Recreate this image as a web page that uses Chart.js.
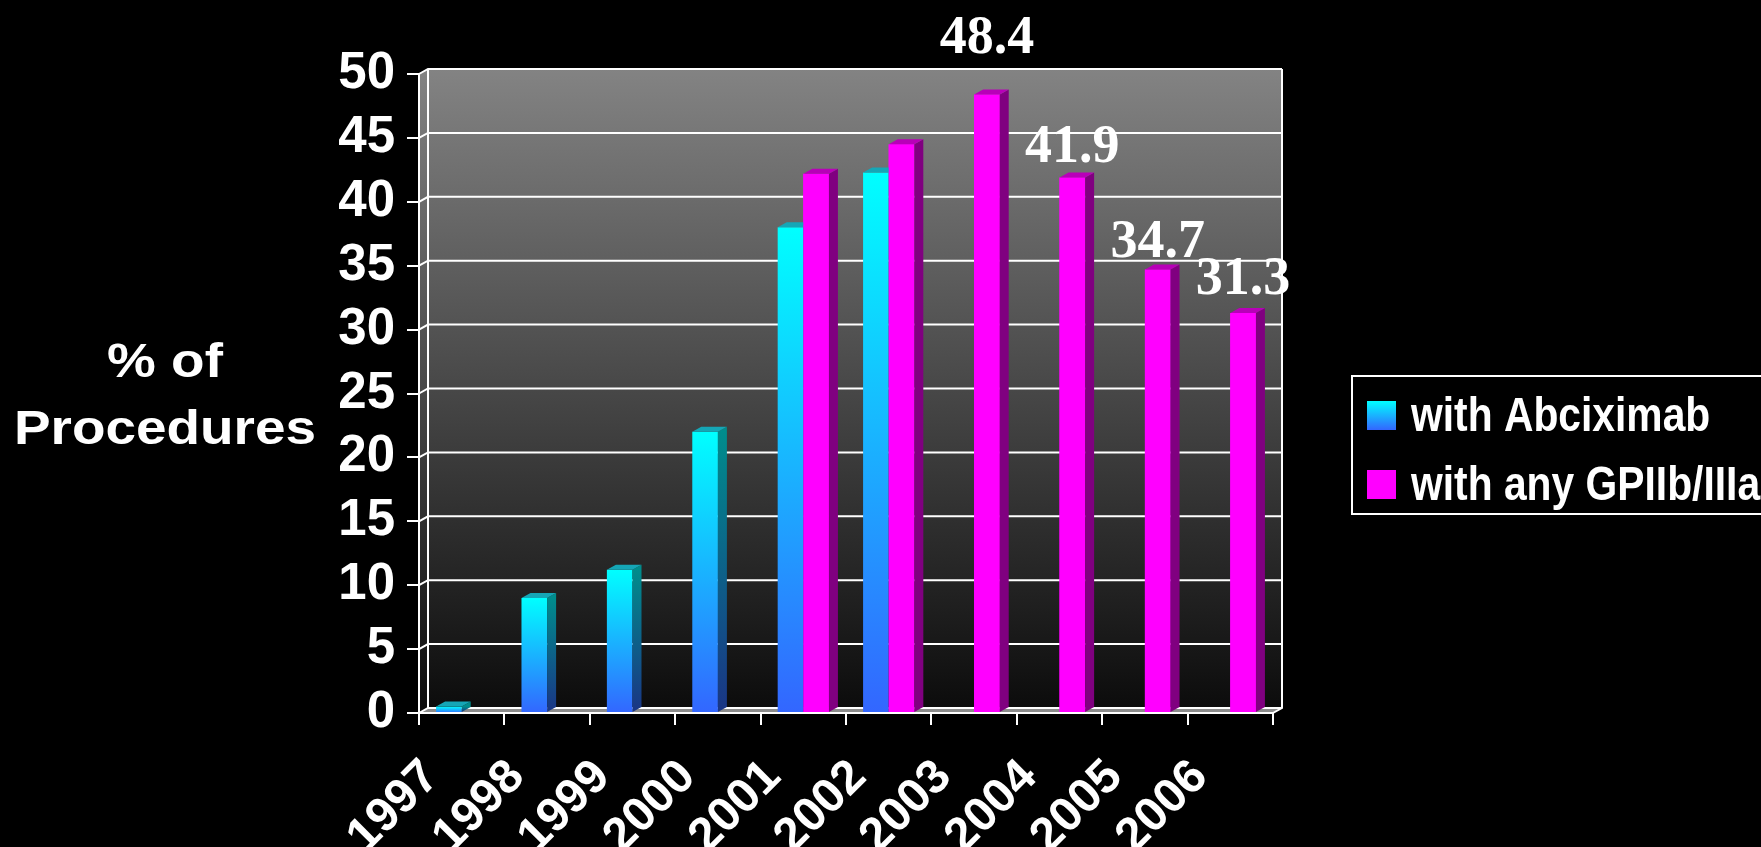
<!DOCTYPE html>
<html>
<head>
<meta charset="utf-8">
<script src="https://cdn.jsdelivr.net/npm/chart.js@4.4.0/dist/chart.umd.min.js"></script>
<style>
html, body { margin: 0; padding: 0; background: #000; overflow: hidden; }
</style>
</head>
<body>
<canvas id="chart" width="1761" height="847"></canvas>
<script>
// data
var years = ['1997', '1998', '1999', '2000', '2001', '2002', '2003', '2004', '2005', '2006'];
var abciximab = [0.5, 9, 11.2, 22, 38, 42.3, null, null, null, null];
var anyGp = [null, null, null, null, 42.2, 44.5, 48.4, 41.9, 34.7, 31.3];
var seriesNames = ['with Abciximab', 'with any GPIIb/IIIa'];
var labelledYears = ['2003', '2004', '2005', '2006'];
var yMin = 0, yMax = 50, yStep = 5;
var axisTitle = ['% of', 'Procedures'];

// fake 3d depth
var DX = 9, DY = -5;
var labelLift = [41, 16, 13, 19];

Chart.defaults.font.family = 'Liberation Sans';

function cyanFront(c) {
  var chart = c.chart;
  if (!chart.chartArea || c.raw == null) return '#00ffff';
  var ys = chart.scales.y;
  var top = ys.getPixelForValue(c.raw), base = ys.getPixelForValue(0);
  var g = chart.ctx.createLinearGradient(0, top, 0, base);
  g.addColorStop(0, '#00ffff');
  g.addColorStop(1, '#3366ff');
  return g;
}

var faceStyles = [
  { side: ['#008c8c', '#1a3585'], top: '#15a6b6' },
  { side: ['#800080', '#800080'], top: '#b800b8' }
];

function drawFaces(ctx, el, st) {
  var p = el.getProps(['x', 'y', 'base', 'width'], true);
  var l = p.x - p.width / 2, r = p.x + p.width / 2;
  var g = ctx.createLinearGradient(0, p.y, 0, p.base);
  g.addColorStop(0, st.side[0]);
  g.addColorStop(1, st.side[1]);
  ctx.fillStyle = g;
  ctx.beginPath();
  ctx.moveTo(r, p.y); ctx.lineTo(r + DX, p.y + DY);
  ctx.lineTo(r + DX, p.base + DY); ctx.lineTo(r, p.base);
  ctx.closePath(); ctx.fill();
  ctx.fillStyle = st.top;
  ctx.beginPath();
  ctx.moveTo(l, p.y); ctx.lineTo(l + DX, p.y + DY);
  ctx.lineTo(r + DX, p.y + DY); ctx.lineTo(r, p.y);
  ctx.closePath(); ctx.fill();
}

var wallPlugin = {
  id: 'walls',
  beforeDraw: function (chart) {
    var ctx = chart.ctx, a = chart.chartArea, ys = chart.scales.y;
    ctx.save();
    ctx.fillStyle = '#000';
    ctx.fillRect(0, 0, chart.width, chart.height);
    var g = ctx.createLinearGradient(0, a.top + DY, 0, a.bottom + DY);
    g.addColorStop(0, '#838383');
    g.addColorStop(1, '#0c0c0c');
    ctx.fillStyle = g;
    ctx.beginPath();
    ctx.moveTo(a.left, a.top); ctx.lineTo(a.left + DX, a.top + DY);
    ctx.lineTo(a.left + DX, a.bottom + DY); ctx.lineTo(a.left, a.bottom);
    ctx.closePath(); ctx.fill();
    ctx.fillRect(a.left + DX, a.top + DY, a.right - a.left, a.bottom - a.top);
    ctx.fillStyle = '#8c8c8c';
    ctx.beginPath();
    ctx.moveTo(a.left, a.bottom); ctx.lineTo(a.left + DX, a.bottom + DY);
    ctx.lineTo(a.right + DX, a.bottom + DY); ctx.lineTo(a.right, a.bottom);
    ctx.closePath(); ctx.fill();
    ctx.strokeStyle = '#fff';
    ctx.lineWidth = 2;
    ys.ticks.forEach(function (t) {
      var py = ys.getPixelForValue(t.value);
      ctx.beginPath();
      ctx.moveTo(a.left, py); ctx.lineTo(a.left + DX, py + DY);
      ctx.lineTo(a.right + DX, py + DY);
      ctx.stroke();
    });
    ctx.beginPath();
    ctx.moveTo(a.left + DX, a.top + DY); ctx.lineTo(a.left + DX, a.bottom + DY);
    ctx.moveTo(a.right + DX, a.top + DY); ctx.lineTo(a.right + DX, a.bottom + DY);
    ctx.lineTo(a.right, a.bottom);
    ctx.stroke();
    ctx.restore();
  },
  afterDatasetsDraw: function (chart) {
    var ctx = chart.ctx;
    ctx.save();
    chart.data.datasets.forEach(function (ds, d) {
      var meta = chart.getDatasetMeta(d);
      meta.data.forEach(function (el, i) {
        if (ds.data[i] == null) return;
        if (d > 0) el.draw(ctx);
        drawFaces(ctx, el, faceStyles[d]);
      });
    });
    // value labels
    var meta = chart.getDatasetMeta(1);
    ctx.fillStyle = '#fff';
    ctx.font = 'bold 54px "Liberation Serif"';
    ctx.textAlign = 'center';
    ctx.textBaseline = 'alphabetic';
    labelledYears.forEach(function (yr, k) {
      var i = years.indexOf(yr);
      var el = meta.data[i];
      ctx.fillText(anyGp[i].toFixed(1), el.x, el.y - labelLift[k]);
    });
    ctx.restore();
  },
  afterDraw: function (chart) {
    var ctx = chart.ctx;
    ctx.save();
    // axis title, horizontal
    ctx.fillStyle = '#fff';
    ctx.font = 'bold 49px "Liberation Sans"';
    ctx.textAlign = 'center';
    ctx.textBaseline = 'alphabetic';
    axisTitle.forEach(function (line, k) {
      ctx.save();
      ctx.translate(165, 377 + k * 67);
      ctx.scale(1.12, 1);
      ctx.fillText(line, 0, 0);
      ctx.restore();
    });
    // legend
    ctx.strokeStyle = '#fff';
    ctx.lineWidth = 2;
    ctx.strokeRect(1352, 376, 460, 138);
    chart.data.datasets.forEach(function (ds, d) {
      var sy = 401 + d * 69;
      if (d === 0) {
        var g = ctx.createLinearGradient(0, sy, 0, sy + 29);
        g.addColorStop(0, '#00ffff');
        g.addColorStop(1, '#3366ff');
        ctx.fillStyle = g;
      } else {
        ctx.fillStyle = '#ff00ff';
      }
      ctx.fillRect(1367, sy, 29, 29);
      ctx.save();
      ctx.fillStyle = '#fff';
      ctx.font = 'bold 48px "Liberation Sans"';
      ctx.textAlign = 'left';
      ctx.translate(1411, sy + 30);
      ctx.scale(0.85, 1);
      ctx.fillText(ds.label, 0, 0);
      ctx.restore();
    });
    ctx.restore();
  }
};

new Chart(document.getElementById('chart'), {
  type: 'bar',
  data: {
    labels: years,
    datasets: [
      { label: seriesNames[0], data: abciximab, backgroundColor: cyanFront, borderWidth: 0 },
      { label: seriesNames[1], data: anyGp, backgroundColor: '#ff00ff', borderWidth: 0 }
    ]
  },
  options: {
    responsive: false,
    animation: false,
    layout: { padding: { left: 0, right: 488, top: 74, bottom: 0 } },
    datasets: { bar: { categoryPercentage: 0.6, barPercentage: 1 } },
    plugins: { legend: { display: false }, tooltip: { enabled: false } },
    scales: {
      x: {
        afterFit: function (s) { s.height = 134; },
        grid: { drawOnChartArea: false, tickLength: 12, color: '#fff', lineWidth: 2 },
        border: { color: '#fff', width: 2 },
        ticks: {
          autoSkip: false,
          color: '#fff', font: { size: 48, weight: 'bold' },
          minRotation: 45, maxRotation: 45, padding: 24, labelOffset: -30
        }
      },
      y: {
        min: yMin, max: yMax,
        afterFit: function (s) { s.width = 419; },
        grid: { drawOnChartArea: false, tickLength: 12, color: '#fff', lineWidth: 2 },
        border: { color: '#fff', width: 2 },
        ticks: { autoSkip: false, stepSize: yStep, color: '#fff', font: { size: 51, weight: 'bold' }, padding: 12 }
      }
    }
  },
  plugins: [wallPlugin]
});
</script>
</body>
</html>
